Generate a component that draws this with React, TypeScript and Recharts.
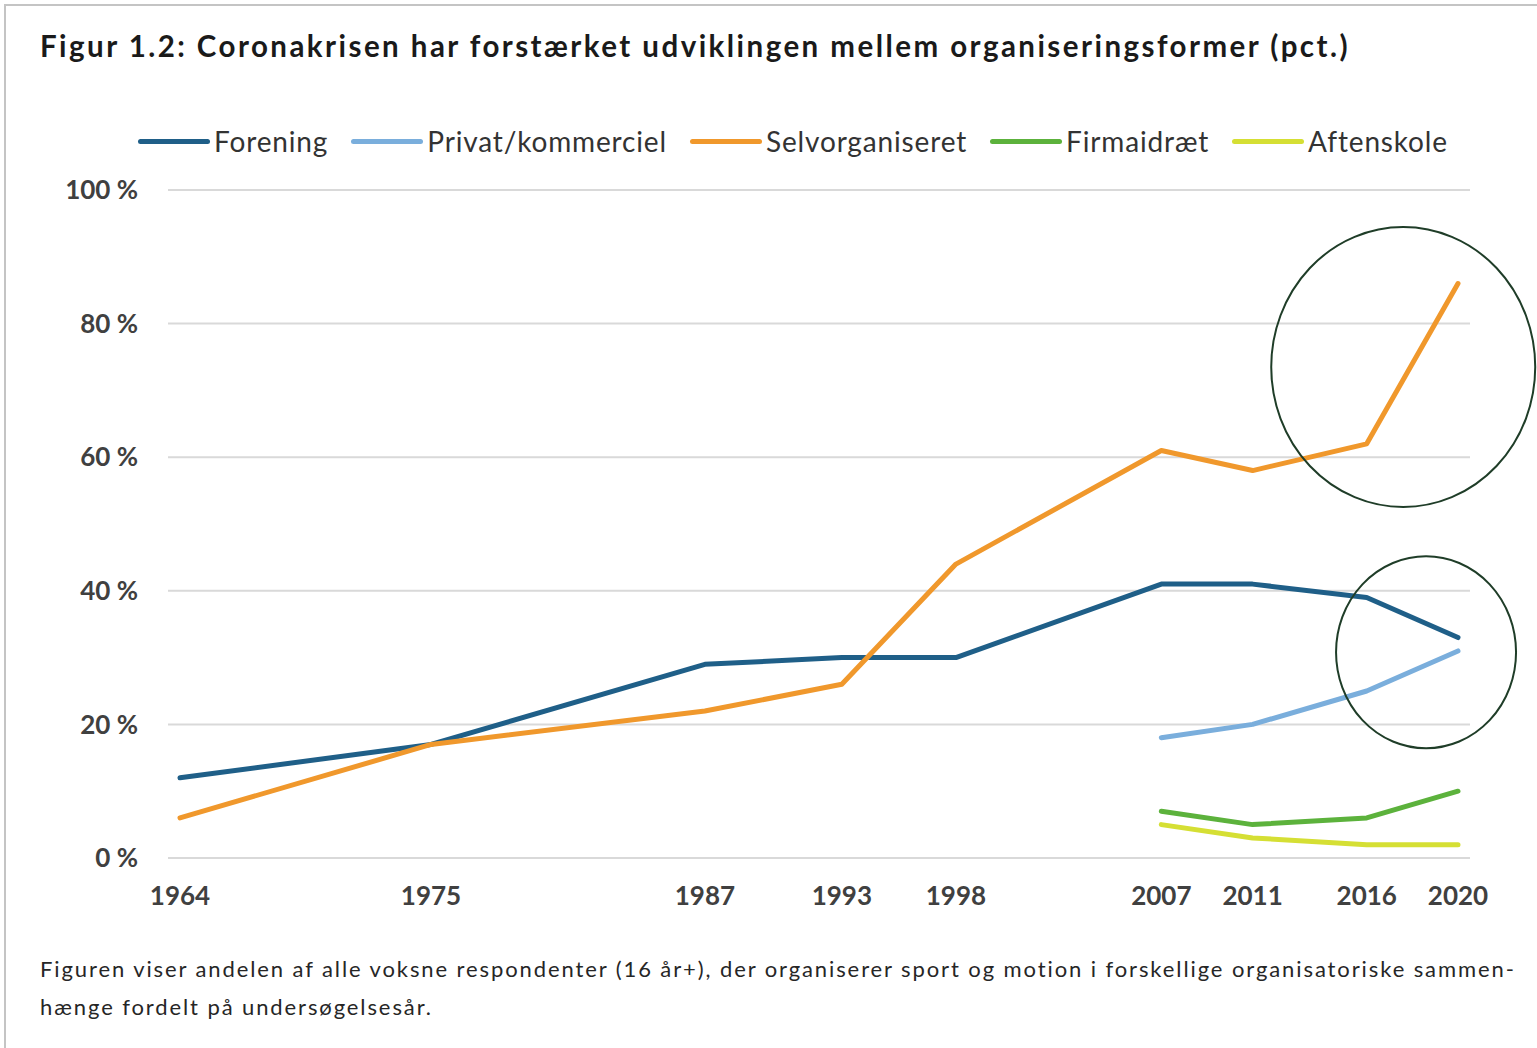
import { CartesianGrid, Line, LineChart, ReferenceDot, XAxis, YAxis } from "recharts";

const years = [1964, 1975, 1987, 1993, 1998, 2007, 2011, 2016, 2020];
const forening = [12, 17, 29, 30, 30, 41, 41, 39, 33];
const privat = [null, null, null, null, null, 18, 20, 25, 31];
const selvorganiseret = [6, 17, 22, 26, 44, 61, 58, 62, 86];
const firmaidraet = [null, null, null, null, null, 7, 5, 6, 10];
const aftenskole = [null, null, null, null, null, 5, 3, 2, 2];
const yTicks = [0, 20, 40, 60, 80, 100];

const series = [
  { key: "forening", name: "Forening", color: "#1f5f88", values: forening },
  { key: "privat", name: "Privat/kommerciel", color: "#7aaedc", values: privat },
  { key: "selvorganiseret", name: "Selvorganiseret", color: "#f0982c", values: selvorganiseret },
  { key: "firmaidraet", name: "Firmaidræt", color: "#5cb23c", values: firmaidraet },
  { key: "aftenskole", name: "Aftenskole", color: "#d5df34", values: aftenskole },
];

// highlight rings drawn on top of the chart (centre in data units)
const highlights = [
  { x: 2017.6, y: 73.5, rx: 132, ry: 140 },
  { x: 2018.6, y: 30.8, rx: 90, ry: 96 },
];

const title = "Figur 1.2: Coronakrisen har forstærket udviklingen mellem organiseringsformer (pct.)";
const captionLines = [
  "Figuren viser andelen af alle voksne respondenter (16 år+), der organiserer sport og motion i forskellige organisatoriske sammen-",
  "hænge fordelt på undersøgelsesår.",
];

const data = years.map((year, i) => {
  const row: Record<string, number | null> = { year };
  series.forEach((s) => {
    row[s.key] = s.values[i];
  });
  return row;
});

const FONT = "Lato, 'Open Sans', sans-serif";

export default function App() {
  return (
    <div
      style={{
        position: "fixed",
        left: 0,
        top: 0,
        width: 1537,
        height: 1048,
        background: "#fff",
        overflow: "hidden",
        fontFamily: FONT,
        color: "#262626",
      }}
    >
      <div
        style={{
          position: "absolute",
          left: 40,
          top: 28,
          fontSize: 29.5,
          fontWeight: 700,
          letterSpacing: 2.45,
          color: "#1a1a1a",
          whiteSpace: "nowrap",
        }}
      >
        {title}
      </div>

      <div
        style={{
          position: "absolute",
          left: 138,
          top: 124,
          display: "flex",
          alignItems: "center",
          fontSize: 28,
          letterSpacing: 0.85,
          color: "#333",
          whiteSpace: "nowrap",
        }}
      >
        {series.map((s) => (
          <div key={s.key} style={{ display: "flex", alignItems: "center", marginRight: 23 }}>
            <span
              style={{
                display: "inline-block",
                width: 72,
                height: 5,
                borderRadius: 3,
                background: s.color,
                marginRight: 4,
              }}
            />
            <span>{s.name}</span>
          </div>
        ))}
      </div>

      <div style={{ position: "absolute", left: 0, top: 0 }}>
        <LineChart
          width={1537}
          height={1048}
          data={data}
          margin={{ top: 190, right: 67, bottom: 150, left: 0 }}
        >
          <CartesianGrid vertical={false} stroke="#d9d9d9" strokeWidth={2} />
          <XAxis
            dataKey="year"
            type="number"
            domain={[1964, 2020]}
            ticks={years}
            padding={{ left: 12, right: 12 }}
            axisLine={false}
            tickLine={false}
            tickSize={0}
            tickMargin={29}
            height={40}
            tick={{ fontSize: 26, fill: "#404040", fontWeight: 700, fontFamily: FONT }}
          />
          <YAxis
            domain={[0, 100]}
            ticks={yTicks}
            width={168}
            axisLine={false}
            tickLine={false}
            tickSize={0}
            tickMargin={30}
            tickFormatter={(v: number) => `${v} %`}
            tick={{ fontSize: 26, fill: "#404040", fontWeight: 700, fontFamily: FONT }}
          />
          {series.map((s) => (
            <Line
              key={s.key}
              dataKey={s.key}
              name={s.name}
              type="linear"
              stroke={s.color}
              strokeWidth={5}
              strokeLinecap="round"
              strokeLinejoin="round"
              dot={false}
              activeDot={false}
              isAnimationActive={false}
            />
          ))}
          {highlights.map((h, i) => (
            <ReferenceDot
              key={i}
              x={h.x}
              y={h.y}
              ifOverflow="visible"
              shape={(p: { cx?: number; cy?: number }) => (
                <ellipse
                  cx={p.cx}
                  cy={p.cy}
                  rx={h.rx}
                  ry={h.ry}
                  fill="none"
                  stroke="#1f3d28"
                  strokeWidth={2}
                />
              )}
            />
          ))}
        </LineChart>
      </div>

      <div
        style={{
          position: "absolute",
          left: 40,
          top: 950,
          fontSize: 22,
          letterSpacing: 1.9,
          lineHeight: "38px",
          color: "#262626",
          whiteSpace: "nowrap",
        }}
      >
        {captionLines.map((l, i) => (
          <div key={i}>{l}</div>
        ))}
      </div>

      <div
        style={{
          position: "absolute",
          left: 4,
          top: 4,
          width: 1600,
          height: 1100,
          borderLeft: "2px solid #c4c4c4",
          borderTop: "2px solid #c4c4c4",
          pointerEvents: "none",
          zIndex: 5,
        }}
      />
    </div>
  );
}
